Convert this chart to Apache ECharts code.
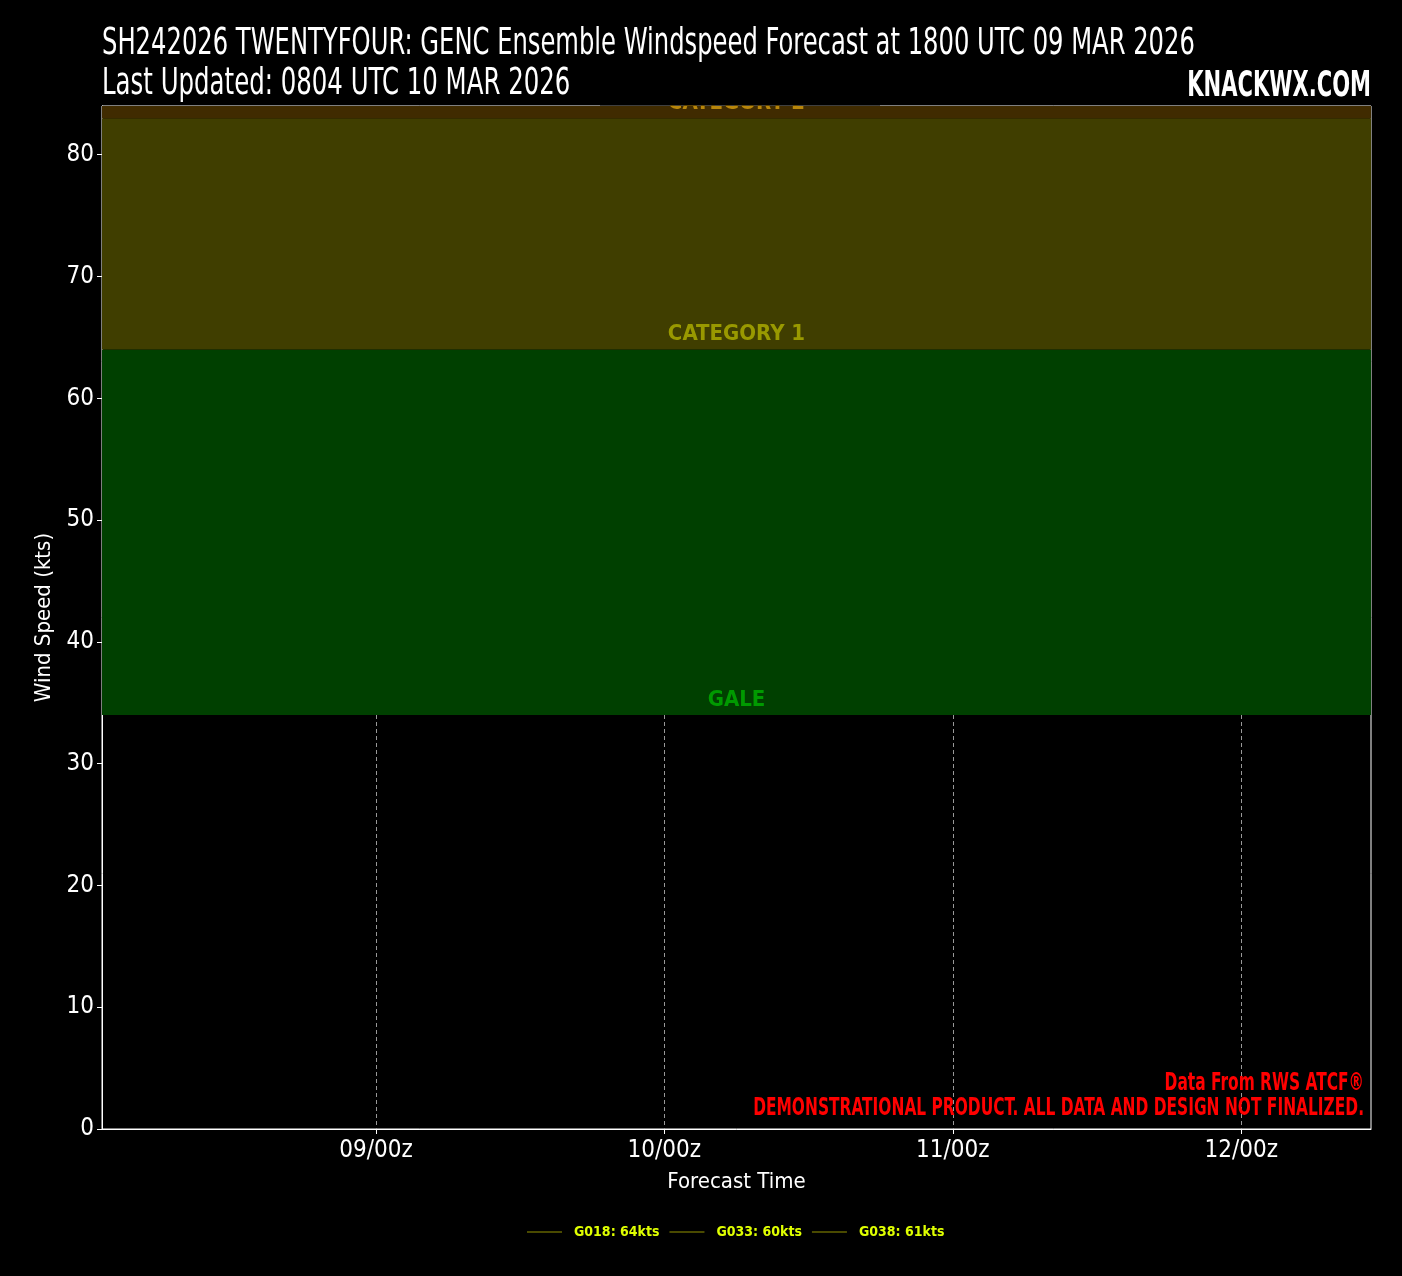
<!DOCTYPE html>
<html>
<head>
<meta charset="utf-8">
<script src="https://cdn.jsdelivr.net/npm/echarts@6/dist/echarts.min.js"></script>
<style>
html,body{margin:0;padding:0;background:#000;}
#chart{width:1402px;height:1276px;}
</style>
</head>
<body>
<div id="chart"></div>
<script>
// ---- data ----
const titleLine1 = 'SH242026 TWENTYFOUR: GENC Ensemble Windspeed Forecast at 1800 UTC 09 MAR 2026';
const titleLine2 = 'Last Updated: 0804 UTC 10 MAR 2026';
const siteName = 'KNACKWX.COM';
const creditLines = ['Data From RWS ATCF®', 'DEMONSTRATIONAL PRODUCT. ALL DATA AND DESIGN NOT FINALIZED.'];
// times in hours since 2026-03-08 00z
const forecastWindow = [6, 102];
const tickHours = [24, 48, 72, 96];
const tickLabels = ['09/00z', '10/00z', '11/00z', '12/00z'];
const memberNames = ['G018', 'G033', 'G038'];
const memberHours = [6, 6, 6];
const memberPeaks = [64, 60, 61];
const bandNames = ['GALE', 'CATEGORY 1', 'CATEGORY 2'];
const bandFrom = [34, 64, 83];
const bandTo = [64, 83, 96];
const yMax = 84;

const FONT = '"Liberation Sans Narrow", "DejaVu Sans Condensed", "Noto Sans", sans-serif';
const bandFill = ['#004000', '#403e00', '#402b00'];
const bandText = ['#009a00', '#999900', '#b8860b'];

const t0 = forecastWindow[0];
const t1 = forecastWindow[1];
const pad = (t1 - t0) * 0.05;

const chart = echarts.init(document.getElementById('chart'), null, {renderer: 'canvas'});

const markData = bandNames.map((n, i) => [
  {yAxis: bandFrom[i], name: n, itemStyle: {color: bandFill[i]},
   label: {color: bandText[i]}},
  {yAxis: Math.min(bandTo[i], yMax)}
]);

const series = memberNames.map((n, i) => ({
  name: n + ': ' + memberPeaks[i] + 'kts',
  type: 'line',
  symbol: 'none',
  showSymbol: false,
  lineStyle: {color: '#4a4a00', width: 2},
  itemStyle: {color: '#4a4a00'},
  data: [[memberHours[i], memberPeaks[i]]],
  z: 5
}));
series.push({
  name: 'bands',
  type: 'line',
  data: [],
  silent: true,
  z: 1,
  markArea: {
    silent: true,
    label: {
      show: true,
      position: 'insideBottom',
      distance: 4,
      fontFamily: FONT,
      fontWeight: 'bold',
      fontSize: 22
    },
    data: markData
  }
});

function sqText(text, x, y, size, weight, color, align, sq) {
  return {
    type: 'text', z: 100, x: x, y: y, scaleX: sq, silent: true,
    style: {text: text, fill: color, font: weight + ' ' + size + 'px ' + FONT,
      textAlign: align, textVerticalAlign: 'middle', verticalAlign: 'middle'}
  };
}

chart.setOption({
  backgroundColor: '#000',
  animation: false,
  legend: {
    data: series.slice(0, 3).map(s => s.name),
    bottom: 32,
    left: 522,
    icon: 'rect',
    itemWidth: 35,
    itemHeight: 2,
    itemGap: 10,
    textStyle: {color: '#dfff00', fontFamily: FONT, fontWeight: 'bold', fontSize: 14,
      padding: [0, 0, 0, 7]}
  },
  grid: {
    left: 102, right: 31, top: 106, bottom: 147,
    show: true, borderColor: '#ffffff', borderWidth: 1,
    backgroundColor: '#000'
  },
  xAxis: {
    type: 'value',
    min: t0 - pad,
    max: t1 + pad,
    name: 'Forecast Time',
    nameLocation: 'middle',
    nameGap: 42,
    nameTextStyle: {color: '#fff', fontFamily: FONT, fontSize: 22},
    axisLine: {show: true, lineStyle: {color: '#fff'}},
    axisTick: {show: true, length: 5, inside: false, lineStyle: {color: '#fff'}, customValues: tickHours},
    axisLabel: {
      color: '#fff', fontFamily: FONT, fontSize: 24, margin: 10,
      customValues: tickHours,
      formatter: v => tickLabels[tickHours.indexOf(v)] || ''
    },
    splitLine: {show: true, lineStyle: {color: '#999', type: [4, 3], width: 1}}
  },
  yAxis: {
    type: 'value',
    min: 0,
    max: yMax,
    interval: 10,
    name: 'Wind Speed (kts)',
    nameLocation: 'middle',
    nameGap: 47,
    nameTextStyle: {color: '#fff', fontFamily: FONT, fontSize: 22},
    axisLine: {show: true, lineStyle: {color: '#fff'}},
    axisTick: {show: true, length: 5, lineStyle: {color: '#fff'}},
    axisLabel: {color: '#fff', fontFamily: FONT, fontSize: 24, margin: 8,
      showMaxLabel: false},
    splitLine: {show: false}
  },
  graphic: [
    {type: 'rect', z: 90, silent: true, shape: {x: 600, y: 86, width: 280, height: 19.5},
     style: {fill: '#000'}},
    sqText(titleLine1, 102, 44, 38, 'normal', '#fff', 'left', 0.709),
    sqText(titleLine2, 102, 84, 38, 'normal', '#fff', 'left', 0.715),
    sqText(siteName, 1371, 87, 36, 'bold', '#fff', 'right', 0.65),
    sqText(creditLines[0], 1364, 1084, 24, 'bold', '#ff0000', 'right', 0.715),
    sqText(creditLines[1], 1364, 1109, 24, 'bold', '#ff0000', 'right', 0.715)
  ],
  series: series
});
</script>
</body>
</html>
